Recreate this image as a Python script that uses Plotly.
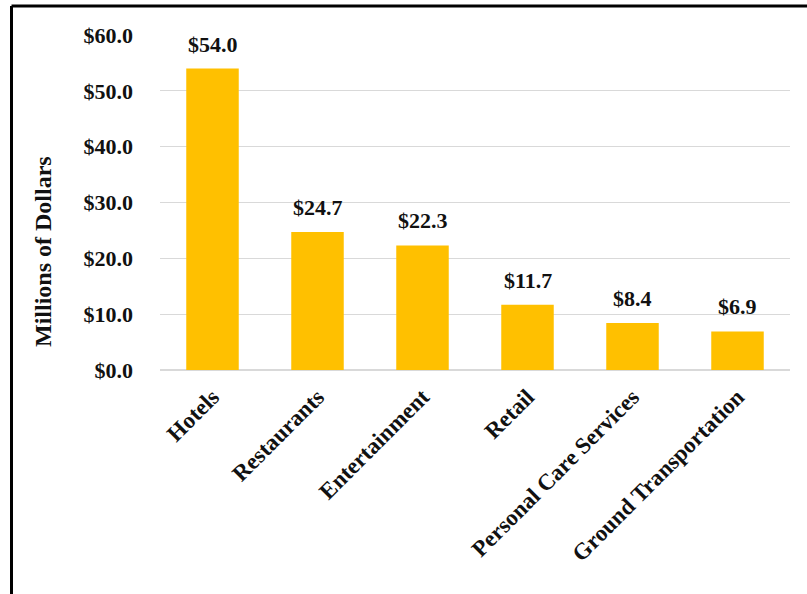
import plotly.graph_objects as go

categories = ["Hotels", "Restaurants", "Entertainment", "Retail", "Personal Care Services", "Ground Transportation"]
values = [54.0, 24.7, 22.3, 11.7, 8.4, 6.9]
y_tickvals = [0, 10, 20, 30, 40, 50, 60]
y_ticktext = ["$%.1f" % v for v in y_tickvals]
y_title = "Millions of Dollars"

FONT = "Liberation Serif, Times New Roman, serif"
W, H = 807, 594
L, R, T, B = 160, 17, 35, 224

fig = go.Figure()
fig.add_trace(go.Bar(x=categories, y=values, marker=dict(color="#FFC000", line=dict(width=0)),
                     hoverinfo="skip"))

for c, v in zip(categories, values):
    fig.add_annotation(x=c, y=v, text="$%.1f" % v, showarrow=False, yanchor="bottom", yshift=10,
                       font=dict(family=FONT, size=22, color="#111111", weight="bold"))

pw = W - L - R
ph = H - T - B
def px(x):
    return (x - L) / pw
def py(y):
    return (H - B - y) / ph

fig.add_annotation(xref="paper", yref="paper", x=px(43), y=py(252), text=y_title, textangle=-90,
                   showarrow=False, xanchor="center", yanchor="middle",
                   font=dict(family=FONT, size=24, weight="bold", color="#111111"))

fig.add_shape(type="line", xref="paper", yref="paper", x0=px(11.5), x1=px(W + 5), y0=py(6), y1=py(6),
              line=dict(color="black", width=3))
fig.add_shape(type="line", xref="paper", yref="paper", x0=px(11.5), x1=px(11.5), y0=py(6), y1=py(H + 5),
              line=dict(color="black", width=3))

fig.update_layout(
    width=W, height=H,
    margin=dict(l=L, r=R, t=T, b=B, autoexpand=False),
    plot_bgcolor="white", paper_bgcolor="white",
    bargap=0.5,
    showlegend=False,
    font=dict(family=FONT, size=22, color="#111111"),
    xaxis=dict(tickangle=-45, tickfont=dict(family=FONT, size=23, weight="bold", color="#111111"),
               showline=False, ticks="", automargin=False, ticklabelstandoff=8),
    yaxis=dict(range=[0, 60], tickvals=y_tickvals, ticktext=y_ticktext,
               tickfont=dict(family=FONT, size=22, weight="bold", color="#111111"),
               showgrid=True, gridcolor="#d9d9d9", gridwidth=1, zeroline=True, zerolinecolor="#d9d9d9",
               ticklabelstandoff=26, automargin=False),
)

fig.write_html("out.html")
